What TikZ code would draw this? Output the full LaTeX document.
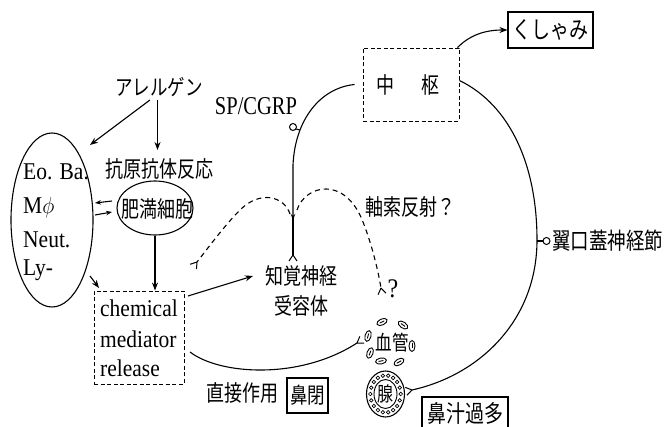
\documentclass[tikz,border=0pt]{standalone}
\usepackage{fontspec}
\usepackage{graphicx}
\setmainfont{Liberation Serif}
\newfontfamily\cjk{Noto Sans CJK JP}
\usetikzlibrary{arrows.meta,shapes.geometric}

% Japanese and Latin labels, set slightly tall
\newcommand{\jtx}[2][18]{{\fontsize{#1}{#1}\cjk\scalebox{1}[1.25]{#2}}}
\newcommand{\ltx}[2][21.5]{{\fontsize{#1}{#1}\selectfont\scalebox{1}[1.12]{#2}}}

\tikzset{
  line/.style={line width=1.1pt},
  arr/.style={line width=1.1pt,-{Stealth[length=8pt,width=6pt]}},
  sarr/.style={line width=1.1pt,-{Stealth[length=6pt,width=4.5pt]}},
  dsh/.style={line width=1.1pt,dash pattern=on 5pt off 4pt},
  box/.style={draw,line width=1.1pt,inner sep=0pt},
  dbox/.style={draw,line width=0.9pt,dash pattern=on 4pt off 2.5pt,inner sep=0pt},
  lbl/.style={inner sep=0pt},
  oval/.style={draw,ellipse,line width=1.1pt,inner sep=0pt},
  nend/.pic={\draw[line width=1pt] (0,0) -- (6,-4) (0,0) -- (6,4);},
  rbc/.pic={\draw[line width=0.9pt] (0,0) ellipse [x radius=5.5, y radius=3];
            \draw[line width=0.9pt] (-2.5,0) -- (2.5,0);},
}

\begin{document}
\begin{tikzpicture}[x=1pt,y=-1pt]
\useasboundingbox (0,0) rectangle (667,427);
\clip (0,0) rectangle (667,427);
\fill[white] (0,0) rectangle (667,427);

% ---- labels and boxes ----
\node[lbl] (allergen) at (159,87) {\jtx[17.5]{アレルゲン}};
\node[lbl] (agab) at (159,169) {\jtx{抗原抗体反応}};
\node[oval,minimum width=76pt,minimum height=54pt] (mast) at (155,208) {};
\node[lbl] (masttext) at (157,209) {\jtx{肥満細胞}};

\node[oval,minimum width=82pt,minimum height=174pt] (cells) at (52,220) {};
\node[lbl,anchor=base west] (eo) at (23,180) {\ltx{Eo. Ba.}};
\node[lbl,anchor=base west] (mphi) at (23,214) {\ltx{M$\phi$}};
\node[lbl,anchor=base west] (neut) at (23,248) {\ltx{Neut.}};
\node[lbl,anchor=base west] (ly) at (23,276) {\ltx{Ly-}};

\node[dbox,minimum width=90pt,minimum height=93pt] (chem) at (139,337.5) {};
\node[lbl,anchor=base west] (chem1) at (100,317) {\ltx{chemical}};
\node[lbl,anchor=base west] (chem2) at (100,348) {\ltx{mediator}};
\node[lbl,anchor=base west] (chem3) at (100,377) {\ltx{release}};

\node[lbl] (sens) at (301,276) {\jtx{知覚神経}};
\node[lbl] (recep) at (301,306) {\jtx{受容体}};

\node[lbl] (spcgrp) at (256,106) {\fontsize{20.5}{20.5}\selectfont\scalebox{1}[1.25]{SP/CGRP}};

\node[dbox,minimum width=96pt,minimum height=73pt] (cns) at (411,84.5) {};
\node[lbl] (cnstext) at (407.5,85) {\jtx{中\hspace{27pt}枢}};

\node[box,minimum width=85pt,minimum height=36pt] (sneeze) at (550.5,30) {\jtx[19]{くしゃみ}};

\node[lbl] (axon) at (410,207) {\jtx{軸索反射？}};
\node[lbl,anchor=west] (ppg) at (552,241) {\jtx[18.5]{翼口蓋神経節}};
\node[lbl] (qm) at (393,289) {\ltx[24]{?}};

\node[lbl] (vessel) at (392,343) {\jtx[16.5]{血管}};
\node[lbl] (direct) at (242,393) {\jtx{直接作用}};
\node[box,minimum width=41pt,minimum height=35pt] (block) at (307.5,395.5) {\jtx[17.5]{鼻閉}};
\node[box,minimum width=86pt,minimum height=45pt] (rhino) at (465,419.5) {};
\node[lbl] (rhinotext) at (465,413) {\jtx[19]{鼻汁過多}};

% ---- gland ----
\node[oval,minimum width=38pt,minimum height=46pt] (gland) at (385.5,394) {};
\draw[line width=0.9pt] (gland.center) ellipse [x radius=11.5, y radius=14.5];
\foreach \a in {0,20,...,340}
  \draw[line width=0.7pt] ({385.5+15.2*cos(\a)},{394+18.6*sin(\a)}) circle (1.8);
\node[lbl] (glandtext) at (385.5,394) {\jtx[16]{腺}};

% ---- blood cells round the vessel ----
\pic[rotate=25] at (382,322) {rbc};
\pic[rotate=-35] at (403,325) {rbc};
\pic[rotate=75] at (368,336) {rbc};
\pic[rotate=90] at (412,346) {rbc};
\pic[rotate=70] at (370,353) {rbc};
\pic[rotate=10] at (381,361) {rbc};
\pic[rotate=30] at (399,362) {rbc};

% ---- arrows on the left ----
\coordinate (a1) at (150,100);
\coordinate (a1e) at (90,145);
\draw[arr] (a1) -- (a1e);
\coordinate (a2) at (157.5,100);
\coordinate (a2e) at (157.5,150);
\draw[arr] (a2) -- (a2e);
\coordinate (d1) at (112,201);
\coordinate (d1e) at (95,203);
\draw[sarr] (d1) -- (d1e);
\coordinate (d2) at (95,215);
\coordinate (d2e) at (112,212);
\draw[sarr] (d2) -- (d2e);
\draw[arr] (mast.south) -- (mast.south |- chem.north);
\coordinate (c1) at (90,276);
\coordinate (c1e) at (99,288);
\draw[arr] (c1) -- (c1e);
\coordinate (m1) at (188,296);
\coordinate (m1e) at (253,276);
\draw[arr] (m1) -- (m1e);

% ---- chemical mediator to the vessel ----
\coordinate (v0) at (190,352);
\coordinate (vend) at (357,343);
\draw[line] (v0) .. controls (220,375) and (300,380) .. (vend);
\pic[rotate=33] at (vend) {nend};

% ---- centre to sneeze ----
\draw[arr] ([xshift=-2pt]cns.north east) .. controls (470,35) and (485,30) .. (sneeze.west);

% ---- sensory nerve (SP/CGRP) ----
\coordinate (rend) at (293,255);
\draw[line,-{Stealth[length=6pt,width=4.5pt]}] ([xshift=-8pt]cns.west) .. controls (320,88) and (295,120) .. (293,165) -- (293,220);
\draw[line] (293,218) -- (rend);
\pic[rotate=-90] at (rend) {nend};
\draw[line width=1pt] (293,127) circle (3.5);
\draw[line width=1pt] (296,129) -- (300,130);

% ---- axon reflex branches ----
\coordinate (ax1) at (381,288);
\draw[dsh] (297,210) .. controls (305,185) and (345,175) .. (363,222) .. controls (372,245) and (378,270) .. (ax1);
\pic[rotate=-80] at (ax1) {nend};
\coordinate (ax2) at (197,262);
\draw[dsh] (290,214) .. controls (284,196) and (260,190) .. (240,210) .. controls (225,225) and (208,248) .. (ax2);
\pic[rotate=-128] at (ax2) {nend};

% ---- parasympathetic path to the gland ----
\coordinate (gend) at (412,390);
\draw[line] ([yshift=4pt]cns.east) .. controls (510,105) and (537,165) .. (537,240) .. controls (537,320) and (480,375) .. (gend);
\pic[rotate=-167.6] at (gend) {nend};
\draw[line] (537,241) -- (543,241);
\draw[line width=1pt] (546.5,241) circle (3.5);

\end{tikzpicture}
\end{document}
